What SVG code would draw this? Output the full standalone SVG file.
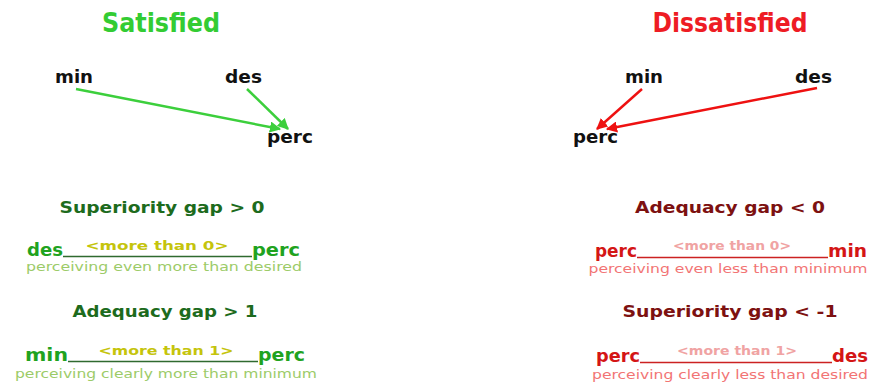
<svg xmlns="http://www.w3.org/2000/svg" width="875" height="387" viewBox="0 0 875 387">
<style>
.title{font-family:"DejaVu Sans",sans-serif;font-weight:bold;font-size:27px;text-anchor:middle}
.lbl{font-family:"DejaVu Sans",sans-serif;font-weight:bold;font-size:17px;fill:#111}
.head{font-family:"DejaVu Sans",sans-serif;font-weight:bold;font-size:16px;text-anchor:middle}
.row{font-family:"DejaVu Sans",sans-serif;font-weight:bold;font-size:17px}
.mid{font-family:"DejaVu Sans",sans-serif;font-weight:bold;font-size:12.5px;text-anchor:middle}
.sub{font-family:"DejaVu Sans",sans-serif;font-size:13px;text-anchor:middle}
.g{fill:#33cc33}.r{fill:#ee1c24}
.gh{fill:#1d6b1d}.rh{fill:#7d1111}
.gr{fill:#1fa31f}.rr{fill:#d41515}
.gm{fill:#c5c40c}.rm{fill:#f0a3a3}
.gs{fill:#9ccb68}.rs{fill:#f27474}
.garrow{stroke:#3ccf3c;stroke-width:2.5;fill:none}
.rarrow{stroke:#ee1111;stroke-width:2.5;fill:none}
</style>
<defs>
<marker id="ag" viewBox="0 0 10 10" refX="9" refY="5" markerWidth="4.5" markerHeight="4.5" orient="auto" markerUnits="strokeWidth"><path d="M0,0 L10,5 L0,10 z" fill="#3ccf3c"/></marker>
<marker id="ar" viewBox="0 0 10 10" refX="9" refY="5" markerWidth="4.5" markerHeight="4.5" orient="auto" markerUnits="strokeWidth"><path d="M0,0 L10,5 L0,10 z" fill="#ee1111"/></marker>
</defs>
<rect width="875" height="387" fill="#fff"/>
<g id="title-satisfied"><text class="title g" x="161" y="32" textLength="118" lengthAdjust="spacingAndGlyphs">Satisfied</text></g>
<g id="title-dissatisfied"><text class="title r" x="730" y="32" textLength="155" lengthAdjust="spacingAndGlyphs">Dissatisfied</text></g>

<g id="s-min"><text class="lbl" x="55" y="83" textLength="38" lengthAdjust="spacingAndGlyphs">min</text></g>
<g id="s-des"><text class="lbl" x="225" y="83" textLength="37" lengthAdjust="spacingAndGlyphs">des</text></g>
<g id="s-perc"><text class="lbl" x="267" y="143" textLength="46" lengthAdjust="spacingAndGlyphs">perc</text></g>
<g id="d-min"><text class="lbl" x="625" y="83" textLength="38" lengthAdjust="spacingAndGlyphs">min</text></g>
<g id="d-des"><text class="lbl" x="795" y="83" textLength="37" lengthAdjust="spacingAndGlyphs">des</text></g>
<g id="d-perc"><text class="lbl" x="573" y="143" textLength="45" lengthAdjust="spacingAndGlyphs">perc</text></g>

<g id="connectors">
<line class="garrow" x1="76" y1="89" x2="280" y2="129" marker-end="url(#ag)"/>
<line class="garrow" x1="247" y1="89" x2="288" y2="129" marker-end="url(#ag)"/>
<line class="rarrow" x1="642" y1="89" x2="597" y2="129" marker-end="url(#ar)"/>
<line class="rarrow" x1="817" y1="88" x2="607" y2="129" marker-end="url(#ar)"/>
</g>

<g id="s-superiority">
<text class="head gh" x="162" y="213" textLength="205" lengthAdjust="spacingAndGlyphs">Superiority gap &gt; 0</text>
<text class="row gr" x="27" y="256" textLength="36" lengthAdjust="spacingAndGlyphs">des</text>
<line x1="63" y1="256.5" x2="252" y2="256.5" stroke="#2f6a2f" stroke-width="1.3"/>
<text class="mid gm" x="157" y="250" textLength="143" lengthAdjust="spacingAndGlyphs">&lt;more than 0&gt;</text>
<text class="row gr" x="252" y="256" textLength="48" lengthAdjust="spacingAndGlyphs">perc</text>
<text class="sub gs" x="164" y="271" textLength="276" lengthAdjust="spacingAndGlyphs">perceiving even more than desired</text>
</g>
<g id="s-adequacy">
<text class="head gh" x="165" y="317" textLength="185" lengthAdjust="spacingAndGlyphs">Adequacy gap &gt; 1</text>
<text class="row gr" x="25" y="361" textLength="43" lengthAdjust="spacingAndGlyphs">min</text>
<line x1="68" y1="361.5" x2="258" y2="361.5" stroke="#2f6a2f" stroke-width="1.3"/>
<text class="mid gm" x="166" y="355" textLength="135" lengthAdjust="spacingAndGlyphs">&lt;more than 1&gt;</text>
<text class="row gr" x="258" y="361" textLength="47" lengthAdjust="spacingAndGlyphs">perc</text>
<text class="sub gs" x="166" y="378" textLength="302" lengthAdjust="spacingAndGlyphs">perceiving clearly more than minimum</text>
</g>

<g id="d-adequacy">
<text class="head rh" x="730" y="213" textLength="190" lengthAdjust="spacingAndGlyphs">Adequacy gap &lt; 0</text>
<text class="row rr" x="595" y="257" textLength="42" lengthAdjust="spacingAndGlyphs">perc</text>
<line x1="637" y1="257.5" x2="828" y2="257.5" stroke="#cc2222" stroke-width="1.3"/>
<text class="mid rm" x="732" y="250" textLength="118" lengthAdjust="spacingAndGlyphs">&lt;more than 0&gt;</text>
<text class="row rr" x="828" y="257" textLength="39" lengthAdjust="spacingAndGlyphs">min</text>
<text class="sub rs" x="728" y="273" textLength="279" lengthAdjust="spacingAndGlyphs">perceiving even less than minimum</text>
</g>
<g id="d-superiority">
<text class="head rh" x="730" y="317" textLength="215" lengthAdjust="spacingAndGlyphs">Superiority gap &lt; -1</text>
<text class="row rr" x="596" y="362" textLength="44" lengthAdjust="spacingAndGlyphs">perc</text>
<line x1="640" y1="362.5" x2="832" y2="362.5" stroke="#cc2222" stroke-width="1.3"/>
<text class="mid rm" x="737" y="355" textLength="120" lengthAdjust="spacingAndGlyphs">&lt;more than 1&gt;</text>
<text class="row rr" x="832" y="362" textLength="36" lengthAdjust="spacingAndGlyphs">des</text>
<text class="sub rs" x="730" y="379" textLength="276" lengthAdjust="spacingAndGlyphs">perceiving clearly less than desired</text>
</g>
</svg>
